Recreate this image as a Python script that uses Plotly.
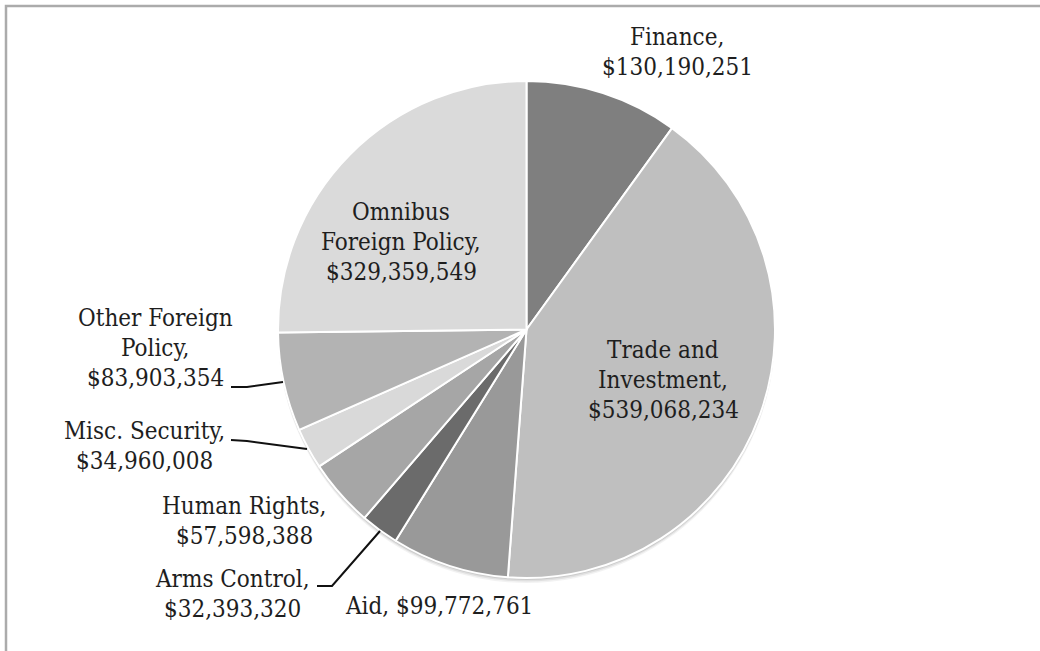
import plotly.graph_objects as go

# Spending by issue area (USD)
categories = ["Finance", "Trade and Investment", "Aid", "Arms Control",
              "Human Rights", "Misc. Security", "Other Foreign Policy",
              "Omnibus Foreign Policy"]
values = [130190251, 539068234, 99772761, 32393320,
          57598388, 34960008, 83903354, 329359549]

# How each label is broken into lines
label_lines = [["Finance,"], ["Trade and", "Investment,"], ["Aid,"],
               ["Arms Control,"], ["Human Rights,"], ["Misc. Security,"],
               ["Other Foreign", "Policy,"], ["Omnibus", "Foreign Policy,"]]
amount_on_same_line = [False, False, True, False, False, False, False, False]

slice_colors = ["#7f7f7f", "#bfbfbf", "#999999", "#6b6b6b",
                "#a6a6a6", "#d9d9d9", "#b3b3b3", "#dadada"]

W, H = 1040, 651
cx, cy, r = 526.5, 329.5, 248.5

# label block centres (pixel coordinates) and line pitch
label_pos = [(677, 52), (663, 380), (439, 606), (232, 594),
             (244, 521), (144, 446), (155, 348), (401, 242)]
line_pitch = 30

# leader lines (pixel coordinates)
leaders = {
    "Other Foreign Policy": [(231, 387), (247, 387), (283, 382)],
    "Misc. Security": [(231, 440), (247, 441), (307, 449)],
    "Arms Control": [(317, 586), (332, 586), (380, 531)],
}

font_family = "DejaVu Serif Condensed, DejaVu Serif, serif"
text_color = "#1e1e1e"

fig = go.Figure()

dom_x = [(cx - r) / W, (cx + r) / W]
dom_y = [(H - cy - r) / H, (H - cy + r) / H]

# soft drop shadow under the pie
for off, alpha in [(5, 0.05), (3.5, 0.07), (2, 0.09)]:
    fig.add_trace(go.Pie(
        values=[1], labels=["shadow"], sort=False,
        marker=dict(colors=[f"rgba(0,0,0,{alpha})"], line=dict(width=0)),
        textinfo="none", hoverinfo="skip", showlegend=False,
        domain=dict(x=dom_x, y=[dom_y[0] - off / H, dom_y[1] - off / H]),
    ))

fig.add_trace(go.Pie(
    labels=categories, values=values, sort=False, direction="clockwise",
    rotation=0, textinfo="none", showlegend=False,
    marker=dict(colors=slice_colors, line=dict(color="white", width=2)),
    domain=dict(x=dom_x, y=dom_y),
))

for name, val, lines, same, (lx, ly) in zip(categories, values, label_lines,
                                           amount_on_same_line, label_pos):
    amount = f"${val:,}"
    if same:
        rows = lines[:-1] + [lines[-1] + " " + amount]
    else:
        rows = lines + [amount]
    n = len(rows)
    for i, row in enumerate(rows):
        fig.add_annotation(x=lx, y=ly + (i - (n - 1) / 2) * line_pitch,
                           xref="x", yref="y", text=row,
                           showarrow=False, xanchor="center", yanchor="middle",
                           font=dict(family=font_family, size=24,
                                     color=text_color))

for name, pts in leaders.items():
    path = "M " + " L ".join(f"{x},{y}" for x, y in pts)
    fig.add_shape(type="path", path=path, xref="x", yref="y",
                  line=dict(color="#111111", width=2))

# outer frame
fig.add_shape(type="rect", x0=6, y0=6, x1=W + 10, y1=H + 10,
              xref="x", yref="y", line=dict(color="#ababab", width=2.5),
              layer="below")

fig.update_layout(
    width=W, height=H, margin=dict(l=0, r=0, t=0, b=0),
    paper_bgcolor="white", plot_bgcolor="rgba(0,0,0,0)",
    xaxis=dict(range=[0, W], visible=False, fixedrange=True, domain=[0, 1]),
    yaxis=dict(range=[H, 0], visible=False, fixedrange=True, domain=[0, 1]),
)

fig.write_html("out.html")
